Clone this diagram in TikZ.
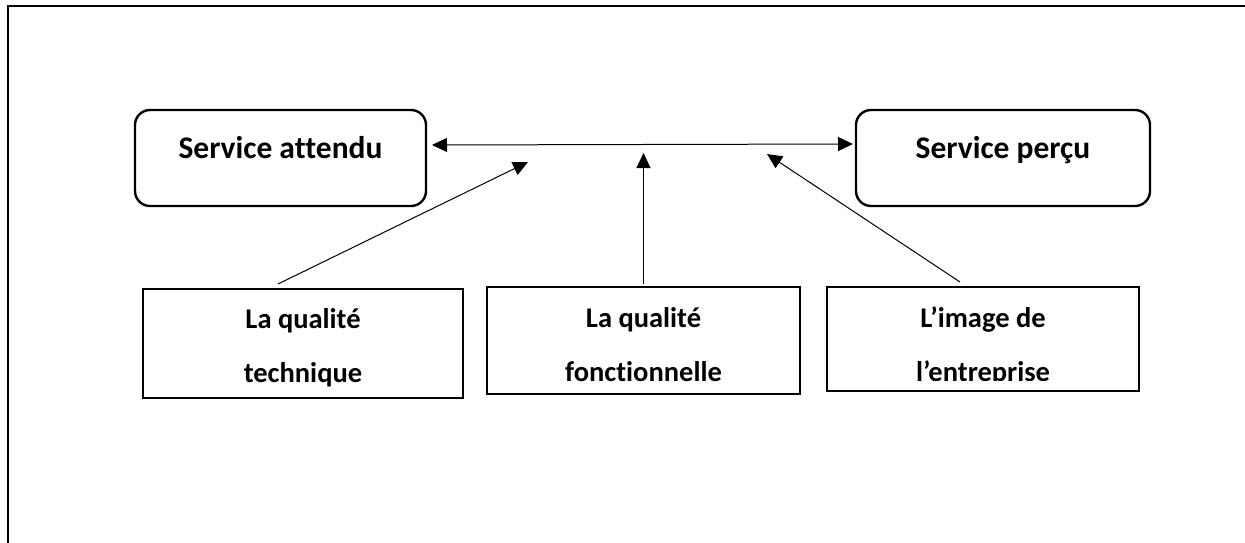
\documentclass[tikz,border=0pt]{standalone}
\usepackage{fontspec}
\setmainfont{Carlito}[Ligatures={NoCommon}]
\usetikzlibrary{arrows.meta,calc}
\begin{document}
\begin{tikzpicture}[x=1pt,y=-1pt,
  topbox/.style={draw, line width=2.4pt, rounded corners=15pt, inner sep=0pt, outer sep=0pt,
    font=\fontsize{31.5}{38}\selectfont\bfseries, text height=12pt, text depth=12pt},
  lowbox/.style={draw, line width=2.4pt, inner sep=0pt, outer sep=0pt,
    font=\fontsize{28.5}{54}\selectfont\bfseries, text height=10pt},
  link/.style={line width=1pt, -{Triangle[length=15pt,width=14pt]}},
  twoway/.style={line width=1pt, {Triangle[length=15pt,width=14pt]}-{Triangle[length=15pt,width=14pt]}},
]
\useasboundingbox (0,0) rectangle (1245,543);
% frame
\draw[line width=2pt] (7.5,543) -- (7.5,6.5) -- (1245,6.5);

% upper boxes
\node[topbox, minimum width=291pt, minimum height=96pt] (attendu) at (280.5,158) {Service attendu};
\node[topbox, minimum width=294pt, minimum height=96pt] (percu) at (1003,158) {Service perçu};

% lower boxes
\node[lowbox, text depth=41pt, minimum width=320pt, minimum height=109pt] (tech) at (303,343.5)
  {\begin{tabular}[t]{@{}c@{}}La qualité\\technique\end{tabular}};
\node[lowbox, text depth=37pt, minimum width=313pt, minimum height=107pt] (fonc) at (643.5,340.5)
  {\begin{tabular}[t]{@{}c@{}}La qualité\\fonctionnelle\end{tabular}};
\node[lowbox, minimum width=312pt, minimum height=104pt] (image) at (983,339) {};
\begin{scope}
  \clip (image.north west) rectangle ($(image.south east)+(0,-11)$);
  \node[lowbox, draw=none, text depth=34pt, minimum width=312pt, minimum height=104pt] (imagetext) at (image)
    {\begin{tabular}[t]{@{}c@{}}L’image de\\l’entreprise\end{tabular}};
\end{scope}

% arrow tips on the upper line
\coordinate (tipA) at (528,162);
\coordinate (tipB) at (643.5,153);
\coordinate (tipC) at (767,154);

% connectors
\draw[twoway] ([xshift=6pt,yshift=13pt]attendu.east) -- ([xshift=-3pt,yshift=14pt]percu.west);
\draw[link] ([xshift=-25pt,yshift=5pt]tech.north) -- (tipA);
\draw[link] ([yshift=3pt]fonc.north) -- (tipB);
\draw[link] ([xshift=-23pt,yshift=5pt]image.north) -- (tipC);
\end{tikzpicture}
\end{document}
